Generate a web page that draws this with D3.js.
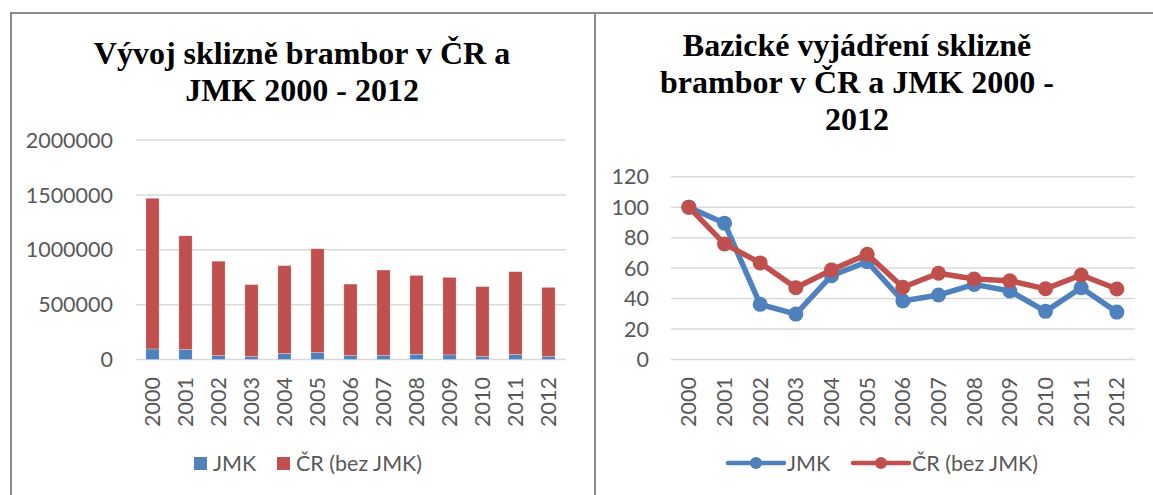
<!DOCTYPE html>
<html>
<head>
<meta charset="utf-8">
<script src="https://cdn.jsdelivr.net/npm/d3@7"></script>
<style>
  body { margin: 0; background: #fff; }
  text { font-family: Lato, "Open Sans", sans-serif; }
  .title { font-family: "Liberation Serif", "Times New Roman", serif; font-weight: bold; fill: #000; }
  .tick-label { fill: #595959; font-size: 21.5px; }
  .grid { stroke: #d9d9d9; stroke-width: 1.5; }
</style>
</head>
<body>
<script>
// data
var years = ["2000","2001","2002","2003","2004","2005","2006","2007","2008","2009","2010","2011","2012"];
// harvest in tonnes (stacked bars)
var jmkTons = [96000, 91000, 36000, 27000, 55000, 64000, 36000, 39000, 48000, 42000, 27000, 45000, 27000];
var crTons  = [1373000, 1036000, 860000, 655000, 800000, 945000, 651000, 776000, 718000, 706000, 637000, 755000, 630000];
// base index, 2000 = 100
var jmkIndex = [100, 89.5, 36.2, 29.8, 55, 64.2, 38.4, 42.3, 49.3, 45, 31.6, 47.1, 31.1];
var crIndex  = [100, 75.9, 63.4, 47.1, 58.8, 69.1, 47.4, 56.6, 52.8, 51.7, 46.4, 55.5, 46.3];

var seriesNames = ["JMK", "ČR (bez JMK)"];
var colors = ["#4f81bd", "#c0504d"];

var barTicks = [0, 500000, 1000000, 1500000, 2000000];
var lineTicks = [0, 20, 40, 60, 80, 100, 120];

var leftTitle = ["Vývoj sklizně brambor v ČR a", "JMK 2000 - 2012"];
var rightTitle = ["Bazické vyjádření sklizně", "brambor v ČR a JMK 2000 -", "2012"];

var W = 1153, H = 495;

var svg = d3.select("body").append("svg")
    .attr("width", W)
    .attr("height", H);

// frame lines
var frame = svg.append("g").attr("stroke", "#8c8c8c").attr("stroke-width", 2);
frame.append("line").attr("x1", 10).attr("x2", W).attr("y1", 13).attr("y2", 13);
frame.append("line").attr("x1", 11).attr("x2", 11).attr("y1", 12).attr("y2", H);
frame.append("line").attr("x1", 595).attr("x2", 595).attr("y1", 12).attr("y2", H);

function drawTitle(lines, cx, y0, step) {
  svg.append("text")
      .attr("class", "title")
      .attr("text-anchor", "middle")
      .style("font-size", "32px")
    .selectAll("tspan")
    .data(lines)
    .enter().append("tspan")
      .attr("x", cx)
      .attr("y", function(d, i) { return y0 + i * step; })
      .text(function(d) { return d; });
}

function drawYearLabels(g, xpos, y) {
  g.selectAll(".year")
    .data(years)
    .enter().append("text")
      .attr("class", "tick-label")
      .attr("text-anchor", "end")
      .attr("dy", "0.35em")
      .attr("transform", function(d) { return "translate(" + xpos(d) + "," + y + ") rotate(-90)"; })
      .text(function(d) { return d; });
}

// ---------------- left: stacked bars ----------------
drawTitle(leftTitle, 302, 64, 37);

var x1 = d3.scaleBand().domain(years).range([136, 565]).paddingInner(0.6).paddingOuter(0.3);
var y1 = d3.scaleLinear().domain([0, 2000000]).range([359.5, 140]);

var left = svg.append("g");

left.selectAll(".grid")
  .data(barTicks)
  .enter().append("line")
    .attr("class", "grid")
    .attr("x1", 136).attr("x2", 566)
    .attr("y1", function(d) { return y1(d); })
    .attr("y2", function(d) { return y1(d); });

left.selectAll(".ylab")
  .data(barTicks)
  .enter().append("text")
    .attr("class", "tick-label")
    .attr("text-anchor", "end")
    .attr("x", 113)
    .attr("y", function(d) { return y1(d); })
    .attr("dy", "0.36em")
    .text(function(d) { return d3.format("d")(d); });

var stackData = years.map(function(y, i) { return {year: y, jmk: jmkTons[i], cr: crTons[i]}; });
var stack = d3.stack().keys(["jmk", "cr"])(stackData);

left.selectAll(".layer")
  .data(stack)
  .enter().append("g")
    .attr("fill", function(d, i) { return colors[i]; })
  .selectAll("rect")
  .data(function(d) { return d; })
  .enter().append("rect")
    .attr("x", function(d) { return x1(d.data.year); })
    .attr("width", x1.bandwidth())
    .attr("y", function(d) { return y1(d[1]); })
    .attr("height", function(d) { return y1(d[0]) - y1(d[1]); })
    .attr("stroke", "#fff")
    .attr("stroke-opacity", 0.4)
    .attr("stroke-width", 0.6);

drawYearLabels(left, function(d) { return x1(d) + x1.bandwidth() / 2; }, 377);

// legend
var lg1 = left.append("g");
var leg1x = [194, 277];
seriesNames.forEach(function(n, i) {
  lg1.append("rect")
      .attr("x", leg1x[i]).attr("y", 457)
      .attr("width", 13).attr("height", 13)
      .attr("fill", colors[i]);
  lg1.append("text")
      .attr("class", "tick-label")
      .attr("x", leg1x[i] + 19)
      .attr("y", 463.5)
      .attr("dy", "0.36em")
      .text(n);
});

// ---------------- right: base index lines ----------------
drawTitle(rightTitle, 857, 56, 37);

var x2 = d3.scalePoint().domain(years).range([671, 1134.7]).padding(0.5);
var y2 = d3.scaleLinear().domain([0, 120]).range([359.5, 176.7]);

var right = svg.append("g");

right.selectAll(".grid")
  .data(lineTicks)
  .enter().append("line")
    .attr("class", "grid")
    .attr("x1", 671).attr("x2", 1135)
    .attr("y1", function(d) { return y2(d); })
    .attr("y2", function(d) { return y2(d); });

right.selectAll(".ylab")
  .data(lineTicks)
  .enter().append("text")
    .attr("class", "tick-label")
    .attr("text-anchor", "end")
    .attr("x", 649)
    .attr("y", function(d) { return y2(d); })
    .attr("dy", "0.36em")
    .text(function(d) { return d; });

var line = d3.line()
    .x(function(d, i) { return x2(years[i]); })
    .y(function(d) { return y2(d); });

[jmkIndex, crIndex].forEach(function(vals, s) {
  var g = right.append("g");
  g.append("path")
      .attr("d", line(vals))
      .attr("fill", "none")
      .attr("stroke", colors[s])
      .attr("stroke-width", 5.5)
      .attr("stroke-linejoin", "round");
  g.selectAll("circle")
    .data(vals)
    .enter().append("circle")
      .attr("cx", function(d, i) { return x2(years[i]); })
      .attr("cy", function(d) { return y2(d); })
      .attr("r", 7.5)
      .attr("fill", colors[s]);
});

drawYearLabels(right, function(d) { return x2(d); }, 377);

var lg2 = right.append("g");
var leg2x = [728, 853];
seriesNames.forEach(function(n, i) {
  lg2.append("line")
      .attr("x1", leg2x[i]).attr("x2", leg2x[i] + 56)
      .attr("y1", 463).attr("y2", 463)
      .attr("stroke", colors[i])
      .attr("stroke-width", 4.5)
      .attr("stroke-linecap", "round");
  lg2.append("circle")
      .attr("cx", leg2x[i] + 28).attr("cy", 463)
      .attr("r", 6)
      .attr("fill", colors[i]);
  lg2.append("text")
      .attr("class", "tick-label")
      .attr("x", leg2x[i] + 59)
      .attr("y", 463.5)
      .attr("dy", "0.36em")
      .text(n);
});
</script>
</body>
</html>
